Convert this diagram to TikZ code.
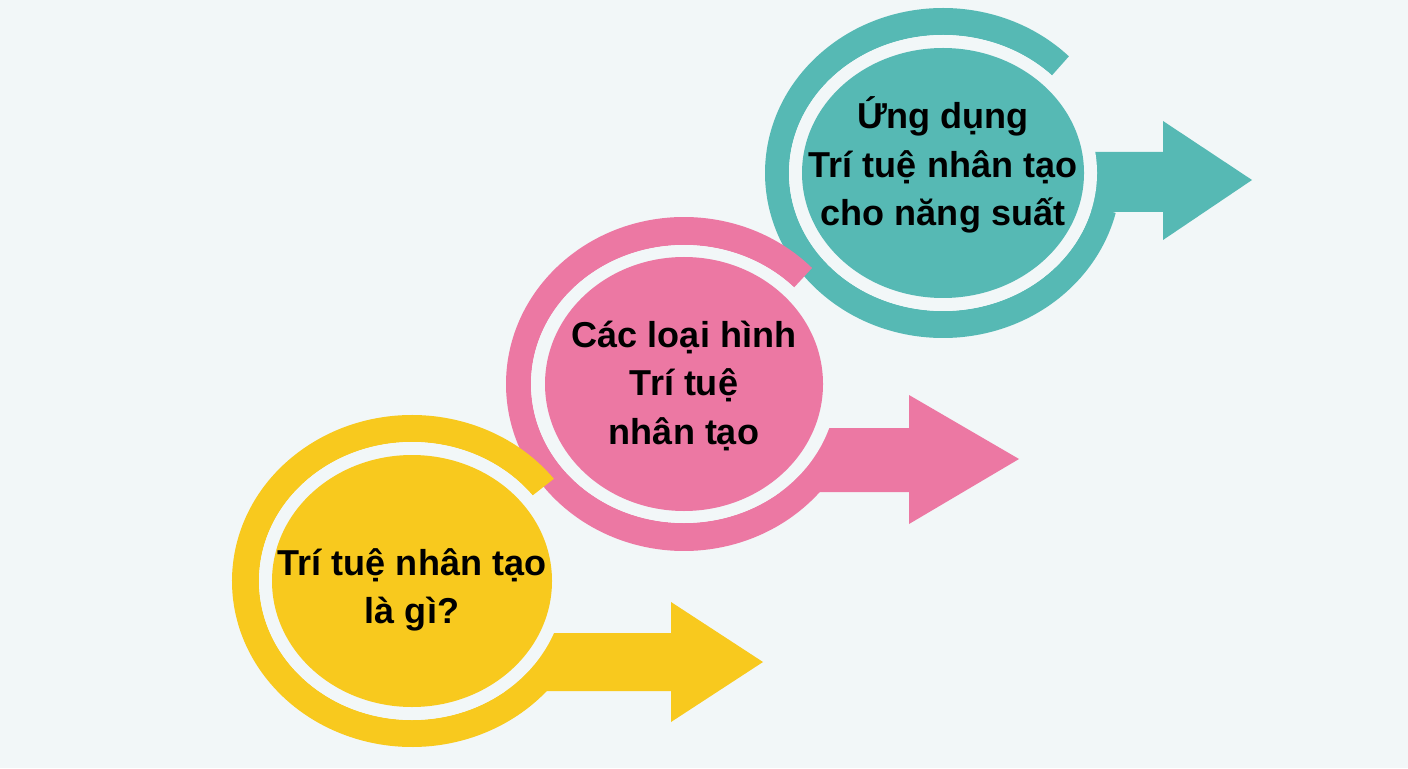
\documentclass[tikz,border=0pt]{standalone}
\usepackage{fontspec}
\setmainfont{Liberation Sans}
\usetikzlibrary{calc}
\definecolor{ringyellow}{HTML}{F8C91E}
\definecolor{ringpink}{HTML}{EC78A3}
\definecolor{ringteal}{HTML}{56B9B4}
\definecolor{paper}{HTML}{F2F7F8}
\begin{document}
\begin{tikzpicture}[x=0.02cm,y=0.02cm,
  txt/.style={font=\bfseries\fontsize{20.5}{27.5}\selectfont, align=center, text=black}]
\fill[paper] (0,0) rectangle (1408,768);
\useasboundingbox (0,0) rectangle (1408,768);
% teal step
\coordinate (tc) at (943,595);
\fill[ringteal] ($(tc)+(45:178 and 165)$) arc[start angle=45,end angle=346,x radius=178,y radius=165] -- ($(tc)+(346:154 and 138)$) arc[start angle=346,end angle=45,x radius=154,y radius=138] -- cycle;
\fill[ringteal] (943,616) -- (1163,616) -- (1163,647) -- (1252,588) -- (1163,528) -- (1163,556) -- (943,556) -- cycle;
\fill[paper] (tc) ellipse[x radius=154,y radius=138];
\fill[ringteal] (tc) ellipse[x radius=141,y radius=125];
\node[txt] (apply) at (943,603) {Ứng dụng\\Trí tuệ nhân tạo\\cho năng suất};
% pink step
\coordinate (pc) at (684,384);
\fill[ringpink] ($(pc)+(44:178 and 167)$) arc[start angle=44,end angle=320,x radius=178,y radius=167] -- ($(pc)+(320:153 and 139)$) arc[start angle=320,end angle=44,x radius=153,y radius=139] -- cycle;
\fill[ringpink] (684,340) -- (909,340) -- (909,373) -- (1019,309) -- (909,244) -- (909,276) -- (684,276) -- cycle;
\fill[paper] (pc) ellipse[x radius=153,y radius=139];
\fill[ringpink] (pc) ellipse[x radius=139,y radius=127];
\node[txt] (types) at (684,382) {Các loại hình\\Trí tuệ\\nhân tạo};
% yellow step
\coordinate (yc) at (412,187);
\fill[ringyellow] ($(yc)+(38:180 and 166)$) arc[start angle=38,end angle=319,x radius=180,y radius=166] -- ($(yc)+(319:153 and 139)$) arc[start angle=319,end angle=38,x radius=153,y radius=139] -- cycle;
\fill[ringyellow] (412,135) -- (671,135) -- (671,166) -- (763,106) -- (671,46) -- (671,77) -- (412,77) -- cycle;
\fill[paper] (yc) ellipse[x radius=153,y radius=139];
\fill[ringyellow] (yc) ellipse[x radius=140,y radius=126];
\node[txt] (what) at (412,178) {Trí tuệ nhân tạo\\là gì?};
%\draw[red] (0,0) grid[step=100] (1408,768);
\end{tikzpicture}
\end{document}
